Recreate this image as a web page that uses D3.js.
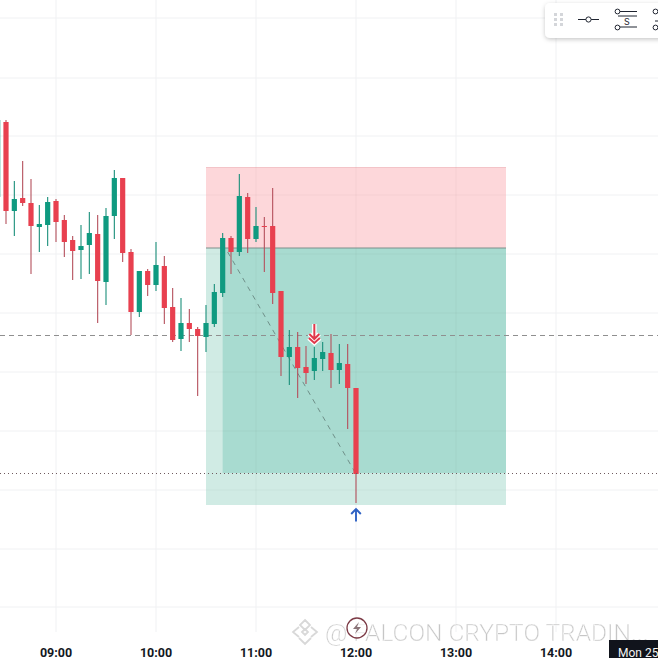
<!DOCTYPE html>
<html><head><meta charset="utf-8">
<script src="https://cdnjs.cloudflare.com/ajax/libs/d3/7.8.5/d3.min.js"></script>
<style>html,body{margin:0;padding:0;background:#fff;overflow:hidden}svg{display:block}</style>
</head><body><svg id="c" width="658" height="658"></svg>
<script>
// Price values are in chart units (one grid step = 59 units)
const startMinutes = 8*60+25, stepMinutes = 5;
const opens  = [461,536,447,460,455,431,433,457,438,418,408,413,424,376,442,480,406,346,387,373,392,351,319,335,329,321,334,365,420,406,461,419,432,432,367,301,311,291,287,299,305,288,294,270];
const closes = [538,447,459,455,432,434,456,436,416,407,412,425,377,442,480,405,346,387,373,393,350,318,335,329,322,335,366,420,406,462,419,432,431,365,301,311,290,285,300,306,288,295,270,184];
const highs  = [543,538,477,497,479,453,461,459,443,422,433,446,443,450,488,480,409,387,389,416,402,370,360,349,331,353,374,425,422,484,465,451,441,470,367,328,326,312,311,316,324,314,314,270];
const lows   = [458,434,422,452,384,406,412,416,401,378,379,384,335,353,419,396,323,341,362,367,334,316,307,316,262,306,331,361,384,402,405,416,386,354,282,273,260,274,278,287,270,274,229,155];
const tickHours = [9,10,11,12,13,14];
const priceGrid = [640,580,522,463,404,345,286,227,168,109,51];
const zoneEntry=[630,810], zoneFill=[640,810];
const zoneStopTop=491, zoneEntryPrice=410, zoneTarget=153, zoneFillLow=185;
const dashedPrice=322.5, dottedPrice=184.5;
const pathFrom=[643,406], pathTo=[720,184];
const axisText = "Mon 25";

const toDate = m => new Date(2024,2,25,Math.floor(m/60),m%60);
const x = d3.scaleTime().domain([toDate(9*60),toDate(14*60)]).range([56,556]);
const y = d3.scaleLinear().domain([0,658]).range([658,0]);
const svg = d3.select("#c");
const defs = svg.append("defs");
const f = defs.append("filter").attr("id","sh").attr("x","-10%").attr("y","-20%").attr("width","120%").attr("height","150%");
f.append("feDropShadow").attr("dx",0).attr("dy",1.5).attr("stdDeviation",2).attr("flood-color","#000").attr("flood-opacity",.22);

const W=658;
const g = svg.append("g");
// grid
g.selectAll(".h").data(priceGrid).join("line").attr("x1",0).attr("x2",W).attr("y1",d=>y(d)).attr("y2",d=>y(d)).attr("stroke","#f0f1f3").attr("stroke-width",1);
g.selectAll(".v").data(tickHours).join("line").attr("x1",d=>x(toDate(d*60))).attr("x2",d=>x(toDate(d*60))).attr("y1",0).attr("y2",632).attr("stroke","#f0f1f3").attr("stroke-width",1);

// position zones
const t0=toDate(zoneEntry[0]), t1=toDate(zoneEntry[1]), tf=toDate(zoneFill[0]);
g.append("rect").attr("x",x(t0)).attr("width",x(t1)-x(t0)).attr("y",y(zoneStopTop)).attr("height",y(zoneEntryPrice)-y(zoneStopTop)).attr("fill","#fdd7da");
g.append("rect").attr("x",x(t0)).attr("width",x(t1)-x(t0)).attr("y",y(zoneStopTop)).attr("height",1).attr("fill","#f3c4c8");
g.append("rect").attr("x",x(t0)).attr("width",x(t1)-x(t0)).attr("y",y(zoneEntryPrice)).attr("height",y(zoneTarget)-y(zoneEntryPrice)).attr("fill","#d0ebe4");
g.append("rect").attr("x",x(tf)).attr("width",x(t1)-x(tf)).attr("y",y(zoneEntryPrice)).attr("height",y(zoneFillLow)-y(zoneEntryPrice)).attr("fill","#a8dbd0");
// faint grid over zones
g.selectAll(".h2").data(priceGrid.filter(d=>d<zoneStopTop&&d>zoneTarget)).join("line").attr("x1",x(t0)).attr("x2",x(t1)).attr("y1",d=>y(d)).attr("y2",d=>y(d)).attr("stroke","#000").attr("stroke-opacity",.035);
g.selectAll(".v2").data([11,12,13]).join("line").attr("x1",d=>x(toDate(d*60))).attr("x2",d=>x(toDate(d*60))).attr("y1",y(zoneStopTop)).attr("y2",y(zoneTarget)).attr("stroke","#000").attr("stroke-opacity",.035);
g.append("line").attr("x1",x(t0)).attr("x2",x(t1)).attr("y1",y(zoneEntryPrice)).attr("y2",y(zoneEntryPrice)).attr("stroke","#7d8f8b").attr("stroke-width",1);

// price lines
g.append("line").attr("x1",0).attr("x2",W).attr("y1",y(dashedPrice)).attr("y2",y(dashedPrice)).attr("stroke","#8f8f8f").attr("stroke-width",1).attr("stroke-dasharray","5 4");
// path
g.append("line").attr("x1",x(toDate(pathFrom[0]))).attr("y1",y(pathFrom[1])).attr("x2",x(toDate(pathTo[0]))).attr("y2",y(pathTo[1])).attr("stroke","#6f9089").attr("stroke-width",1).attr("stroke-dasharray","5 5");

// candles
const candles = closes.map((c,i)=>({t:toDate(startMinutes+i*stepMinutes),o:opens[i],h:highs[i],l:lows[i],c}));
const up="#0f9a80", dn="#e8404f", dnW="#b5505c", upW="#1a8f7a";
const cg = g.selectAll(".k").data(candles).join("g");
cg.append("line").attr("x1",d=>x(d.t)).attr("x2",d=>x(d.t)).attr("y1",d=>y(d.h)).attr("y2",d=>y(d.l)).attr("stroke",d=>d.c>=d.o?upW:dnW).attr("stroke-width",1.1);
cg.append("rect").attr("x",d=>x(d.t)-2.6).attr("width",5.2).attr("y",d=>y(Math.max(d.o,d.c))).attr("height",d=>Math.max(1,Math.abs(y(d.o)-y(d.c)))).attr("fill",d=>d.c>=d.o?up:dn);

g.append("line").attr("x1",0).attr("x2",W).attr("y1",y(dottedPrice)).attr("y2",y(dottedPrice)).attr("stroke","#6e5a5e").attr("stroke-width",1).attr("stroke-dasharray","1 3");

// markers
const sx=x(toDate(11*60+35)), mk=g.append("g").attr("transform",`translate(${sx},334)`);
mk.append("path").attr("d","M0,-10V5M-5,0L0,5L5,0M-5.5,4L0,9L5.5,4").attr("fill","none").attr("stroke","#fff").attr("stroke-width",4.5);
mk.append("path").attr("d","M0,-10V5M-5,0L0,5L5,0M-5.5,4L0,9L5.5,4").attr("fill","none").attr("stroke","#e0394b").attr("stroke-width",2);
const bx=x(toDate(12*60));
g.append("path").attr("transform",`translate(${bx},515)`).attr("d","M0,6.5V-6M-4.8,-1L0,-6L4.8,-1").attr("fill","none").attr("stroke","#2f62c4").attr("stroke-width",1.9);

// axis labels
g.selectAll(".tl").data(tickHours).join("text").attr("x",d=>x(toDate(d*60))).attr("y",657).attr("text-anchor","middle").attr("font-family","Roboto, sans-serif").attr("font-size",12.5).attr("font-weight",700).attr("fill","#131722").text(d=>d3.format("02")(d)+":00");

// watermark
const wm=g.append("g").attr("opacity",.85);
wm.append("text").attr("x",325).attr("y",641).attr("font-family","Roboto, sans-serif").attr("font-size",24.5).attr("font-weight",300).attr("fill","#bdbdbd").attr("stroke","#fff").attr("stroke-width",.3).text("@ FALCON CRYPTO TRADIN...");
const lg=wm.append("g").attr("transform","translate(305,632)").attr("fill","none").attr("stroke","#d2d2d2").attr("stroke-width",1.8);
lg.append("path").attr("d","M0,-12L5,-7L0,-2L-5,-7ZM-6,-5L-12,0L-6,5M6,-5L12,0L6,5M-6,6L0,12L6,6M-3,0L0,-3L3,0L0,3Z");

// event badge
const ev=g.append("g").attr("transform",`translate(${bx+1},628)`);
ev.append("circle").attr("r",10).attr("fill","#fff").attr("fill-opacity",.7).attr("stroke","#7c3b46").attr("stroke-width",1.3);
ev.append("path").attr("d","M2,-6L-4,1H0L-2,6L4,-1H0Z").attr("fill","#8a7478");

// date box
g.append("rect").attr("x",609).attr("y",640).attr("width",49).attr("height",18).attr("fill","#11141c");
g.append("text").attr("x",618).attr("y",657).attr("font-family","Roboto, sans-serif").attr("font-size",12).attr("fill","#f4f4f4").text(axisText);

// toolbar
const tb=g.append("g");
tb.append("rect").attr("x",545).attr("y",3).attr("width",130).attr("height",35).attr("rx",5).attr("fill","#fff").attr("filter","url(#sh)");
[[555,14],[561,14],[555,19],[561,19],[555,24],[561,24]].forEach(p=>tb.append("rect").attr("x",p[0]-1).attr("y",p[1]-1).attr("width",3).attr("height",3).attr("fill","#d4d6da"));
const ts="#1f2430";
tb.append("path").attr("d","M578,19.5H599").attr("stroke",ts);
tb.append("circle").attr("cx",588.5).attr("cy",19.5).attr("r",2.6).attr("fill","#fff").attr("stroke",ts);
tb.append("path").attr("d","M619,11.5H637M618,16H637M619,27H637").attr("stroke",ts).attr("fill","none");
tb.append("circle").attr("cx",617.5).attr("cy",11.5).attr("r",2.4).attr("fill","#fff").attr("stroke",ts);
tb.append("circle").attr("cx",617.5).attr("cy",27.5).attr("r",2.4).attr("fill","#fff").attr("stroke",ts);
tb.append("text").attr("x",627).attr("y",25).attr("text-anchor","middle").attr("font-family","Inter, sans-serif").attr("font-size",9).attr("fill",ts).text("S");
tb.append("circle").attr("cx",655.5).attr("cy",11.5).attr("r",2.4).attr("fill","#fff").attr("stroke",ts);
tb.append("circle").attr("cx",655.5).attr("cy",27.5).attr("r",2.4).attr("fill","#fff").attr("stroke",ts);
tb.append("path").attr("d","M655,21H658").attr("stroke",ts);
</script></body></html>
